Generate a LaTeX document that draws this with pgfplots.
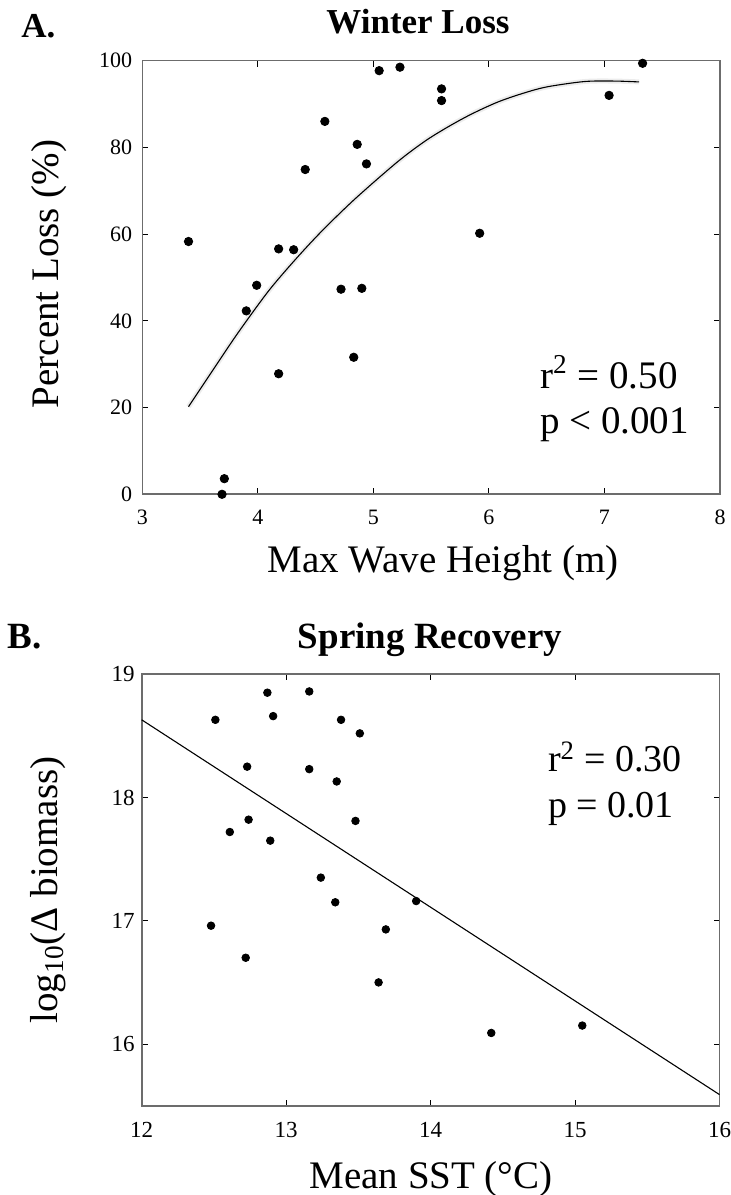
\documentclass[border=0pt]{standalone}
\usepackage{fontspec}
\setmainfont{Liberation Serif}
\usepackage{pgfplots}
\usepackage{pgfplotstable}
\pgfplotsset{compat=1.18}
\pgfplotstableread{
x y
3.40 58.3
3.69 0.0
3.71 3.6
3.90 42.3
3.99 48.2
4.18 56.6
4.18 27.8
4.31 56.4
4.41 74.9
4.58 86.0
4.72 47.3
4.83 31.6
4.86 80.7
4.90 47.5
4.94 76.2
5.05 97.7
5.23 98.5
5.59 93.5
5.59 90.8
5.92 60.2
7.04 92.0
7.33 99.4
}\winter
\pgfplotstableread{
x y
3.40 20.2
3.63 29.4
3.83 37.3
4.09 46.8
4.32 54.0
4.55 60.6
4.84 68.1
5.21 76.7
5.45 81.5
5.65 84.8
5.85 87.7
6.08 90.5
6.31 92.6
6.51 94.0
6.83 95.2
7.09 95.3
7.30 95.1
}\winterfit
\pgfplotstableread{
x y
12.51 18.63
12.87 18.85
13.16 18.86
12.91 18.66
13.38 18.63
13.51 18.52
12.73 18.25
13.16 18.23
13.35 18.13
12.74 17.82
13.48 17.81
12.61 17.72
12.89 17.65
13.24 17.35
13.34 17.15
13.90 17.16
12.48 16.96
13.69 16.93
12.72 16.70
13.64 16.50
14.42 16.09
15.05 16.15
}\spring
\pgfplotsset{
  common/.style={
    scale only axis,
    anchor=south west,
    tick align=inside,
    major tick length=3pt,
    axis line style={draw=gray!85!black, line width=0.8pt},
    tick style={black, line width=0.45pt},
    /pgf/number format/assume math mode=true,
    clip=false,
  }
}
\begin{document}
\begin{tikzpicture}[x=1pt,y=1pt]
\useasboundingbox (0,0) rectangle (365.5,597.5);
% ---------------- Panel A ----------------
\begin{axis}[common,
  at={(71.15pt,350.35pt)},
  width=288.85pt, height=216.8pt,
  xmin=3, xmax=8, ymin=0, ymax=100,
  xtick={3,4,5,6,7,8}, ytick={0,20,40,60,80,100},
  ticklabel style={font=\fontsize{11}{13}\selectfont},
  xticklabel style={yshift=-4.3pt},
  yticklabel style={xshift=-1.6pt},
]
\addplot[gray!15, line width=2.5pt, smooth] table[x=x,y=y] {\winterfit};
\addplot[black, line width=0.55pt, smooth] table[x=x,y=y] {\winterfit};
\addplot[only marks, mark=*, mark size=2.1pt, mark options={draw=black, fill=black}] table[x=x,y=y] {\winter};
\node[anchor=base west, inner sep=0pt, font=\fontsize{19.5}{22}\selectfont] at (axis cs:6.44,24.5) {r\textsuperscript{2} = 0.50};
\node[anchor=base west, inner sep=0pt, font=\fontsize{19.5}{22}\selectfont] at (axis cs:6.44,14.1) {p < 0.001};
\end{axis}
\node[anchor=base west, inner sep=0pt, font=\bfseries\fontsize{17.5}{20}\selectfont] at (10.5,578.5) {A.};
\node[anchor=base, font=\bfseries\fontsize{17.5}{20}\selectfont] at (209,580.8) {Winter Loss};
\node[anchor=base, rotate=90, font=\fontsize{19.5}{22}\selectfont] at (29,460.5) {Percent Loss (\%)};
\node[anchor=base, font=\fontsize{19.5}{22}\selectfont] at (221.5,311) {Max Wave Height (m)};
% ---------------- Panel B ----------------
\begin{axis}[common,
  at={(70.85pt,44.65pt)},
  width=288.9pt, height=215.75pt,
  xmin=12, xmax=16, ymin=15.5, ymax=19,
  xtick={12,13,14,15,16}, ytick={16,17,18,19},
  ticklabel style={font=\fontsize{11.5}{13.5}\selectfont},
  xticklabel style={yshift=-4.8pt},
]
\addplot[black, line width=0.55pt] coordinates {(12,18.63) (16,15.59)};
\addplot[only marks, mark=*, mark size=1.9pt, mark options={draw=black, fill=black}] table[x=x,y=y] {\spring};
\node[anchor=base west, inner sep=0pt, font=\fontsize{19}{22}\selectfont] at (axis cs:14.81,18.21) {r\textsuperscript{2} = 0.30};
\node[anchor=base west, inner sep=0pt, font=\fontsize{19}{22}\selectfont] at (axis cs:14.81,17.84) {p = 0.01};
\end{axis}
\node[anchor=base west, inner sep=0pt, font=\bfseries\fontsize{18.5}{21}\selectfont] at (3.5,273) {B.};
\node[anchor=base, font=\bfseries\fontsize{18.5}{21}\selectfont] at (215,273.3) {Spring Recovery};
\node[anchor=base, rotate=90, font=\fontsize{19.5}{22}\selectfont] at (28.5,152.5) {log\textsubscript{10}(Δ biomass)};
\node[anchor=base, font=\fontsize{19.5}{22}\selectfont] at (215.5,3) {Mean SST (°C)};
\end{tikzpicture}
\end{document}
